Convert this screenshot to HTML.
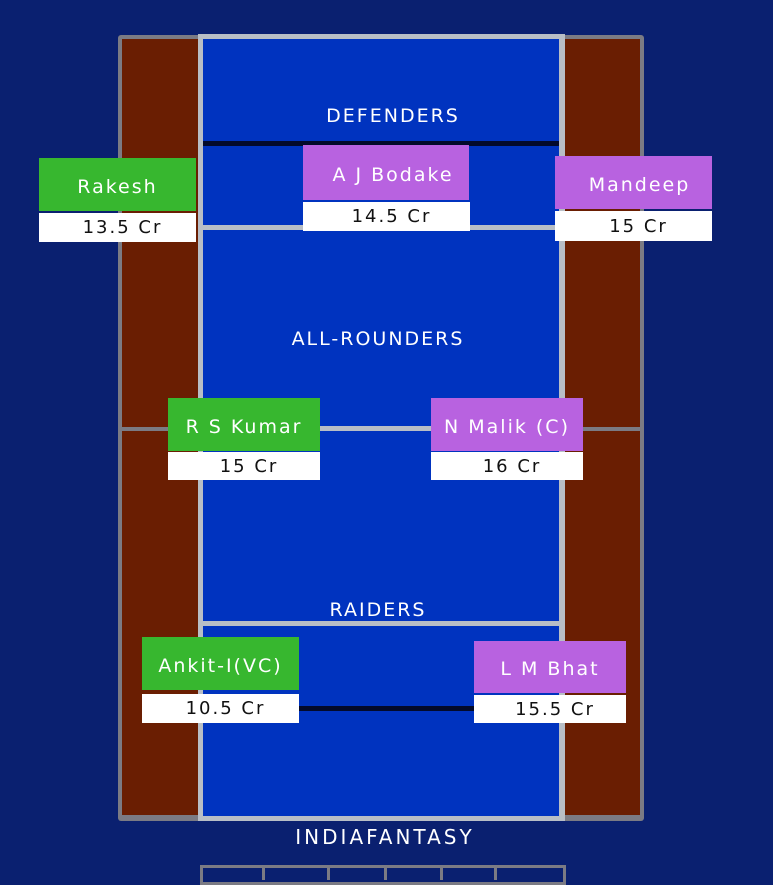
<!DOCTYPE html>
<html><head><meta charset="utf-8"><style>
*{margin:0;padding:0;box-sizing:border-box}
body{width:773px;height:879px;background:#0a2070;position:relative;overflow:hidden;font-family:"DejaVu Sans","Liberation Sans",sans-serif}
.a{position:absolute}
.lbl{position:absolute;color:#fff;font-size:19px;letter-spacing:2px;text-align:center}
.n{position:absolute;color:#fff;font-size:19px;letter-spacing:2px;display:flex;align-items:center;justify-content:center;padding-top:4px}
.p{position:absolute;background:#fff;color:#111;font-size:18px;letter-spacing:2px;display:flex;align-items:center;justify-content:center;padding-left:10px}
.g{background:#37b72f}.v{background:#b862e0}
</style></head><body>
<div class="a" style="left:118px;top:35px;width:526px;height:786px;background:#7b7b84;border-radius:3px"></div>
<div class="a" style="left:122px;top:39px;width:76px;height:388px;background:#6a1e02"></div>
<div class="a" style="left:122px;top:431px;width:76px;height:384px;background:#6a1e02"></div>
<div class="a" style="left:565px;top:39px;width:75px;height:388px;background:#6a1e02"></div>
<div class="a" style="left:565px;top:431px;width:75px;height:384px;background:#6a1e02"></div>
<div class="a" style="left:198px;top:34px;width:367px;height:787px;background:#b8bec6"></div>
<div class="a" style="left:203px;top:39px;width:356px;height:777px;background:#0033bf"></div>
<div class="a" style="left:203px;top:141px;width:356px;height:5px;background:#030a2a"></div>
<div class="a" style="left:203px;top:225px;width:356px;height:5px;background:#b8bec6"></div>
<div class="a" style="left:203px;top:426px;width:356px;height:5px;background:#b8bec6"></div>
<div class="a" style="left:203px;top:621px;width:356px;height:5px;background:#b8bec6"></div>
<div class="a" style="left:203px;top:706px;width:356px;height:5px;background:#030a2a"></div>
<div class="a" style="left:200px;top:865px;width:366px;height:20px;border:3px solid #7b7b84;background:#0a2070"></div>
<div class="a" style="left:262px;top:866px;width:3px;height:14px;background:#7b7b84"></div>
<div class="a" style="left:327px;top:866px;width:3px;height:14px;background:#7b7b84"></div>
<div class="a" style="left:384px;top:866px;width:3px;height:14px;background:#7b7b84"></div>
<div class="a" style="left:440px;top:866px;width:3px;height:14px;background:#7b7b84"></div>
<div class="a" style="left:494px;top:866px;width:3px;height:14px;background:#7b7b84"></div>
<div class="lbl" style="left:293px;top:105px;width:200px">DEFENDERS</div>
<div class="lbl" style="left:263px;top:328px;width:230px">ALL-ROUNDERS</div>
<div class="lbl" style="left:278px;top:599px;width:200px">RAIDERS</div>
<div class="lbl" style="left:235px;top:825px;width:300px;font-size:20px;letter-spacing:3px">INDIAFANTASY</div>

<div class="n g" style="left:39px;top:158px;width:157px;height:53px">Rakesh</div>
<div class="p" style="left:39px;top:213px;width:157px;height:29px">13.5 Cr</div>
<div class="n v" style="left:303px;top:145px;width:166px;height:55px;padding-left:14px">A J Bodake</div>
<div class="p" style="left:303px;top:202px;width:167px;height:29px">14.5 Cr</div>
<div class="n v" style="left:555px;top:156px;width:157px;height:53px;padding-left:12px">Mandeep</div>
<div class="p" style="left:555px;top:211px;width:157px;height:30px">15 Cr</div>
<div class="n g" style="left:168px;top:398px;width:152px;height:53px">R S Kumar</div>
<div class="p" style="left:168px;top:452px;width:152px;height:28px">15 Cr</div>
<div class="n v" style="left:431px;top:398px;width:152px;height:53px">N Malik (C)</div>
<div class="p" style="left:431px;top:452px;width:152px;height:28px">16 Cr</div>
<div class="n g" style="left:142px;top:637px;width:157px;height:53px">Ankit-I(VC)</div>
<div class="p" style="left:142px;top:694px;width:157px;height:29px">10.5 Cr</div>
<div class="n v" style="left:474px;top:641px;width:152px;height:52px">L M Bhat</div>
<div class="p" style="left:474px;top:695px;width:152px;height:28px">15.5 Cr</div>
</body></html>
